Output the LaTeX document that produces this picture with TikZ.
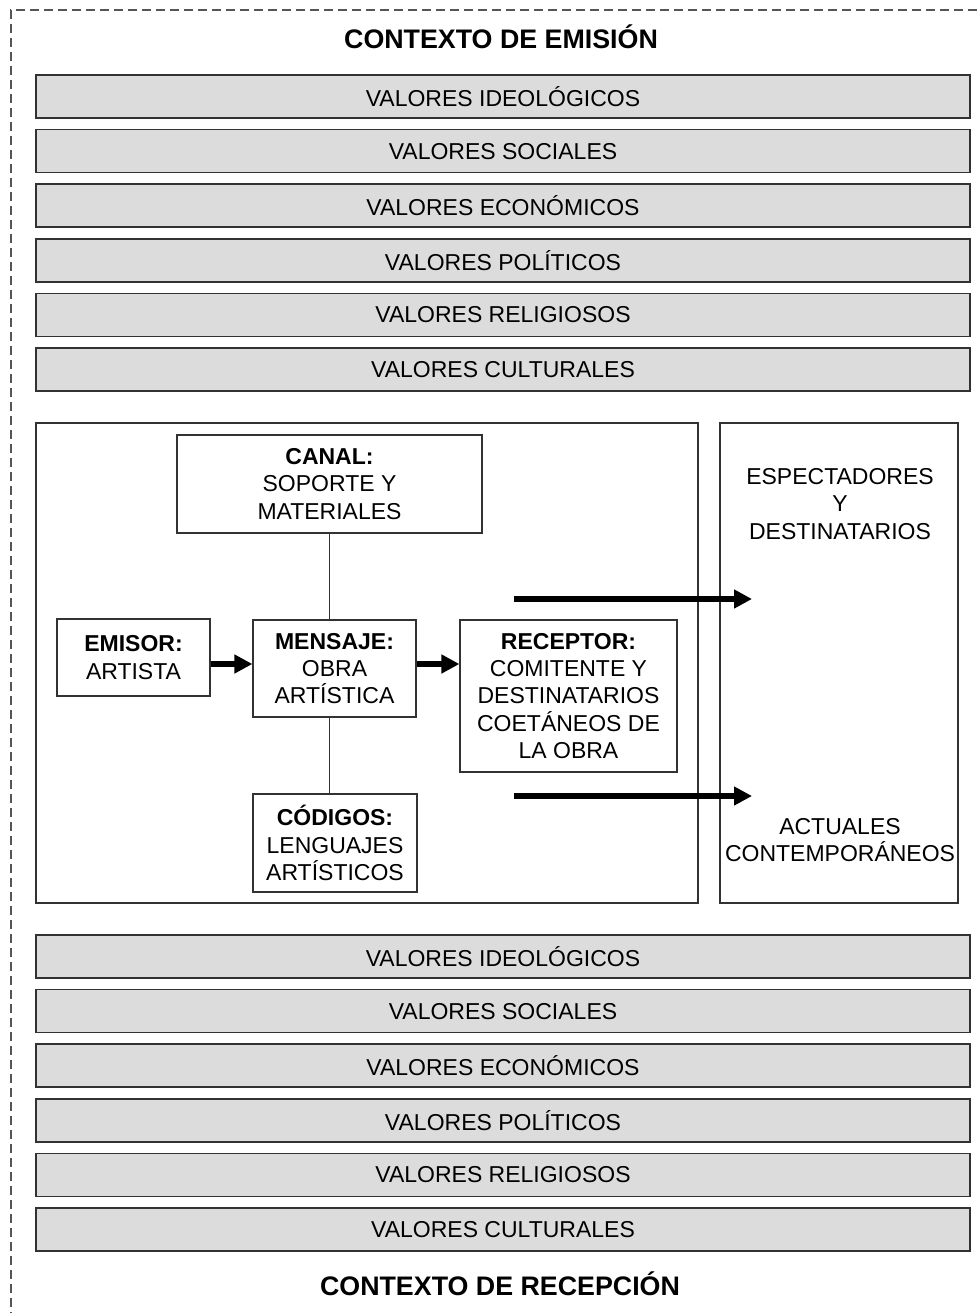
\documentclass[tikz,border=0pt]{standalone}
\usepackage{fontspec}
\setmainfont{Liberation Sans}
\usetikzlibrary{arrows.meta}
\definecolor{barfill}{RGB}{220,220,220}
\definecolor{edgec}{RGB}{50,50,50}
\definecolor{dashc}{RGB}{85,85,85}
\begin{document}
\begin{tikzpicture}[x=1pt,y=-1pt,
  txt/.style={font=\fontsize{23}{27.3}\selectfont, align=center, inner sep=0pt},
  bar/.style={draw=edgec, line width=1.5pt, fill=barfill, minimum width=934pt, minimum height=43pt, inner sep=0pt, font=\fontsize{23}{26}\selectfont},
  box/.style={draw=edgec, line width=1.2pt, inner sep=0pt, align=center, font=\fontsize{23}{27.3}\selectfont},
  frame/.style={draw=edgec, line width=1.2pt, inner sep=0pt},
  title/.style={font=\fontsize{26.8}{30}\selectfont\bfseries, inner sep=0pt},
  flow/.style={line width=5.5pt, -{Triangle[length=18pt,width=18pt]}},
  link/.style={draw=edgec, line width=1.4pt},
  dashline/.style={draw=dashc, line width=1.3pt, dash pattern=on 9pt off 5pt}
]
\useasboundingbox (0,0) rectangle (977,1313);
\fill[white] (0,0) rectangle (977,1313);

% dashed outer frame (top and left sides)
\coordinate (dtr) at (977,10);
\coordinate (dtl) at (11,10);
\coordinate (dbl) at (11,1313);
\draw[dashline] (dtr) -- (dtl) -- (dbl);

% titles
\node[title] (ctxE) at (501,37) {CONTEXTO DE EMISIÓN};
\node[title] (ctxR) at (500,1284) {CONTEXTO DE RECEPCIÓN};

% value bars
\foreach \t [count=\i] in {VALORES IDEOLÓGICOS,VALORES SOCIALES,VALORES ECONÓMICOS,VALORES POLÍTICOS,VALORES RELIGIOSOS,VALORES CULTURALES}{
  \node[bar] (e\i) at (503,{96.5+54.6*(\i-1)}) {\t};
  \node[bar] (r\i) at (503,{956.5+54.6*(\i-1)}) {\t};
}

% frames
\node[frame, minimum width=662pt, minimum height=480pt] (inner) at (367,663) {};
\node[frame, minimum width=238pt, minimum height=480pt] (dest) at (839,663) {};

% boxes
\node[box, minimum width=305pt, minimum height=98pt] (canal) at (329.5,484) {\textbf{CANAL:}\\SOPORTE Y\\MATERIALES};
\node[box, minimum width=153pt, minimum height=77pt] (emisor) at (133.5,657.5) {\textbf{EMISOR:}\\ARTISTA};
\node[box, minimum width=163pt, minimum height=97pt] (mensaje) at (334.5,668.5) {\textbf{MENSAJE:}\\OBRA\\ARTÍSTICA};
\node[box, minimum width=217pt, minimum height=152pt] (receptor) at (568.5,696) {\textbf{RECEPTOR:}\\COMITENTE Y\\DESTINATARIOS\\COETÁNEOS DE\\LA OBRA};
\node[box, minimum width=164pt, minimum height=98pt] (codigos) at (335,843) {\textbf{CÓDIGOS:}\\LENGUAJES\\ARTÍSTICOS};

% right box texts
\node[txt] (esp) at (840,504) {ESPECTADORES\\Y\\DESTINATARIOS};
\node[txt] (act) at (840,840) {ACTUALES\\CONTEMPORÁNEOS};

% connectors
\draw[link] (canal.south) -- (canal.south |- mensaje.north);
\draw[link] (canal.south |- mensaje.south) -- (canal.south |- codigos.north);

\coordinate (flowy) at (0,664);
\draw[flow] (emisor.east |- flowy) -- (mensaje.west |- flowy);
\draw[flow] (mensaje.east |- flowy) -- (receptor.west |- flowy);

\coordinate (s1) at (514,599);
\coordinate (t1) at (752,599);
\coordinate (s2) at (514,796);
\coordinate (t2) at (752,796);
\draw[flow] (s1) -- (t1);
\draw[flow] (s2) -- (t2);
\end{tikzpicture}
\end{document}
